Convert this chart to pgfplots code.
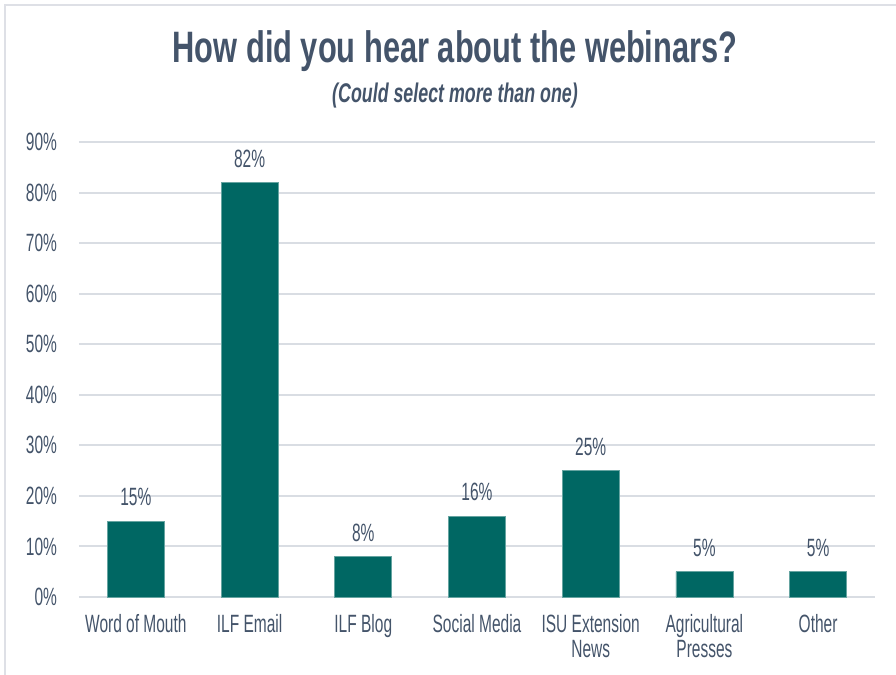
\documentclass[border=0pt]{standalone}
\usepackage{fontspec}
\setmainfont{Liberation Sans}[FakeStretch=0.62]
\newfontfamily\titlefont{Liberation Sans}[FakeStretch=0.7]
\newfontfamily\subfont{Liberation Sans}[FakeStretch=0.66]
\usepackage{pgfplots}
\pgfplotsset{compat=1.18}

\definecolor{barc}{RGB}{0,103,99}
\definecolor{txtc}{RGB}{68,84,106}
\definecolor{gridc}{RGB}{217,221,227}
\definecolor{framec}{RGB}{222,224,230}

\begin{document}
\begin{tikzpicture}
  % page: 896x675 px at 0.5pt per px, axis origin at px (79,597)
  \useasboundingbox (-39.5pt,-39pt) rectangle (408.5pt,298.5pt);
  \draw[framec, line width=1pt] (-36.75pt,-39pt) -- (-36.75pt,296pt) -- (408.5pt,296pt);
  \begin{axis}[
    at={(0,0)}, anchor=south west,
    scale only axis,
    width=398pt, height=227.5pt,
    ybar,
    bar width=28.5pt,
    xmin=-0.5, xmax=6.5,
    ymin=0, ymax=90,
    xtick=data,
    xticklabels={Word of Mouth, ILF Email, ILF Blog, Social Media,
                 ISU Extension\\News, Agricultural\\Presses, Other},
    ytick={0,10,...,90},
    yticklabel={\pgfmathprintnumber{\tick}\%},
    /pgf/number format/assume math mode=true,
    axis line style={draw=none},
    major tick style={draw=none},
    ymajorgrids,
    major grid style={gridc, line width=1pt},
    tick label style={font=\fontsize{12.5}{12.5}\selectfont, text=txtc},
    x tick label style={align=center, yshift=-1pt},
    y tick label style={xshift=-7.5pt},
    clip=false,
    nodes near coords={\pgfmathprintnumber{\pgfplotspointmeta}\%},
    nodes near coords style={font=\fontsize{12.5}{12.5}\selectfont, text=txtc, yshift=4pt},
  ]
    \addplot[fill=barc, draw=barc!60!white, line width=0.3pt] coordinates {
      (0,15) (1,82) (2,8) (3,16) (4,25) (5,5) (6,5)
    };
  \end{axis}
  \node[text=txtc, font=\titlefont\bfseries\fontsize{22}{24}\selectfont] at (188pt,273pt) {How did you hear about the webinars?};
  \node[text=txtc, font=\subfont\bfseries\itshape\fontsize{13.5}{15}\selectfont] at (188pt,250.5pt) {(Could select more than one)};
\end{tikzpicture}
\end{document}
